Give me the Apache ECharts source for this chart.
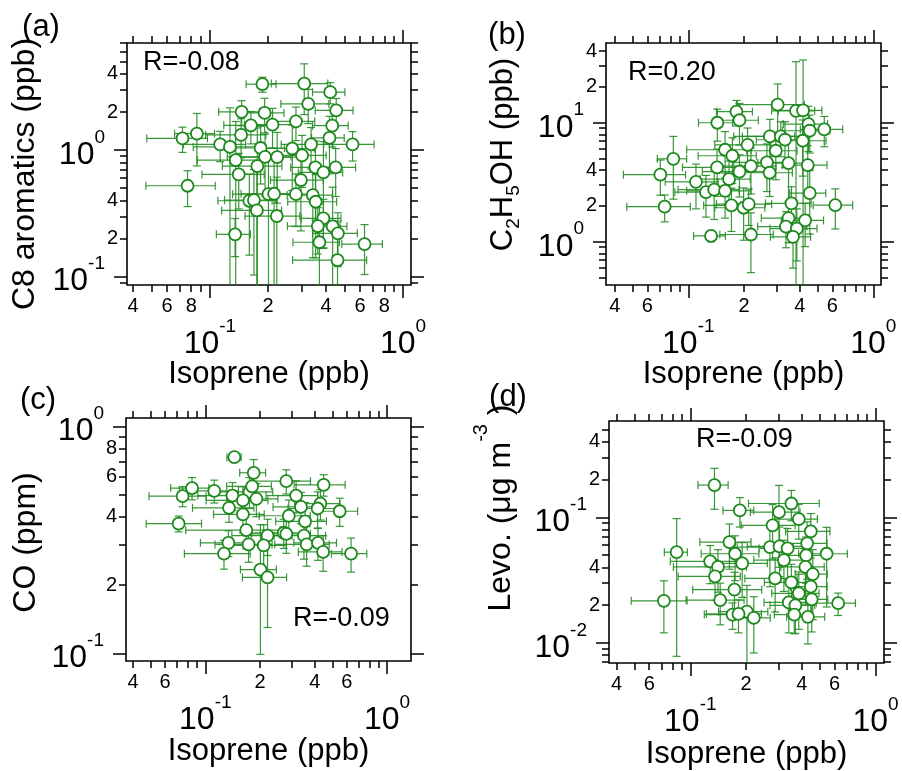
<!DOCTYPE html>
<html>
<head>
<meta charset="utf-8">
<script src="https://cdn.jsdelivr.net/npm/echarts@6/dist/echarts.min.js"></script>
<style>
html,body{margin:0;padding:0;background:#fff;}
#chart{width:902px;height:771px;}
</style>
</head>
<body>
<div id="chart"></div>
<script>
// ---------------- data ----------------
// (a) isoprene vs C8 aromatics
const isoA = [0.187,0.308,0.420,0.323,0.146,0.192,0.451,0.279,0.163,0.211,0.430,0.0721,0.0856,0.145,0.416,0.113,0.127,0.183,0.267,0.334,0.548,0.136,0.193,0.223,0.300,0.176,0.448,0.352,0.141,0.387,0.296,0.0766,0.201,0.215,0.279,0.341,0.353,0.160,0.169,0.175,0.222,0.387,0.362,0.432,0.460,0.135,0.369,0.632,0.458];
const c8 = [3.32,3.36,2.87,2.32,2.01,1.97,2.06,1.69,1.57,1.59,1.56,1.24,1.35,1.32,1.25,1.11,1.06,1.04,1.03,1.11,1.11,0.834,0.886,0.881,0.908,0.748,0.730,0.730,0.643,0.667,0.580,0.523,0.449,0.452,0.449,0.441,0.391,0.398,0.403,0.334,0.301,0.289,0.251,0.250,0.220,0.216,0.187,0.181,0.135];
const isoAErr = [0.033,0.10,0.08,0.09,0.035,0.05,0.10,0.07,0.045,0.06,0.09,0.025,0.02,0.05,0.08,0.04,0.045,0.06,0.08,0.10,0.16,0.05,0.07,0.08,0.10,0.06,0.12,0.09,0.05,0.10,0.09,0.03,0.07,0.07,0.08,0.09,0.10,0.05,0.05,0.06,0.07,0.09,0.11,0.08,0.12,0.027,0.10,0.15,0.19];
const c8Err = [0.45,1.45,0.55,0.7,0.45,0.6,0.5,0.5,0.45,0.55,0.5,0.28,0.6,0.45,0.6,0.3,1.1,0.5,0.55,0.4,0.29,0.85,0.45,0.5,0.4,0.75,0.3,0.45,0.3,0.5,0.35,0.165,0.46,0.46,0.2,0.3,0.25,0.25,0.3,0.34,0.31,0.12,0.1,0.26,0.1,0.072,0.19,0.077,0.14];

// (b) isoprene vs C2H5OH
const isoB = [0.304,0.382,0.417,0.182,0.189,0.1435,0.446,0.543,0.453,0.276,0.316,0.333,0.415,0.209,0.158,0.297,0.173,0.083,0.266,0.348,0.442,0.143,0.218,0.189,0.275,0.0706,0.166,0.110,0.1246,0.138,0.158,0.453,0.171,0.199,0.212,0.361,0.623,0.0745,0.348,0.428,0.337,0.386,0.368,0.1327,0.218];
const etoh = [14.2,12.6,12.7,12.4,10.5,10.0,9.75,8.79,8.57,7.68,7.68,7.2,7.06,6.53,5.93,5.82,5.28,4.98,4.64,4.58,4.41,4.21,4.32,3.88,3.80,3.66,3.36,3.19,2.61,2.74,2.68,2.56,2.02,1.93,2.07,2.10,2.03,1.97,1.58,1.51,1.34,1.29,1.10,1.12,1.15];
const isoBErr = [0.12,0.10,0.11,0.04,0.05,0.03,0.12,0.14,0.13,0.10,0.12,0.10,0.14,0.07,0.06,0.09,0.06,0.015,0.09,0.11,0.12,0.05,0.08,0.07,0.09,0.026,0.05,0.035,0.04,0.05,0.06,0.10,0.05,0.06,0.07,0.10,0.15,0.028,0.10,0.11,0.10,0.11,0.09,0.026,0.07];
const etohErr = [7,20,21,3,4,3,4,2.5,3,3,2.5,3,3.5,2.5,2.5,2.5,2.2,2.7,2,2.5,2,1.8,1.8,1.5,1.4,1.2,1.4,1.3,1.0,1.2,1.1,1.4,0.8,0.9,0.7,0.8,0.75,0.5,0.6,0.6,0.45,0.6,0.5,0.12,0.6];

// (c) isoprene vs CO
const isoC = [0.1445,0.1846,0.279,0.448,0.0845,0.0750,0.112,0.141,0.175,0.181,0.161,0.191,0.316,0.430,0.336,0.415,0.549,0.135,0.161,0.288,0.354,0.0713,0.168,0.220,0.270,0.279,0.349,0.134,0.173,0.2095,0.361,0.417,0.445,0.1267,0.634,0.201,0.220];
const co = [0.732,0.625,0.574,0.553,0.535,0.493,0.520,0.496,0.515,0.545,0.472,0.480,0.496,0.457,0.442,0.435,0.423,0.438,0.410,0.404,0.382,0.373,0.349,0.330,0.340,0.336,0.330,0.307,0.302,0.299,0.302,0.307,0.280,0.275,0.275,0.234,0.216];
const isoCErr = [0.013,0.03,0.10,0.14,0.02,0.026,0.04,0.05,0.06,0.05,0.06,0.06,0.10,0.12,0.10,0.13,0.14,0.05,0.05,0.09,0.11,0.024,0.09,0.08,0.09,0.10,0.11,0.04,0.06,0.07,0.12,0.11,0.12,0.05,0.14,0.045,0.06];
const coErr = [0.03,0.09,0.07,0.06,0.06,0.05,0.06,0.07,0.08,0.07,0.07,0.08,0.08,0.07,0.07,0.08,0.06,0.06,0.07,0.07,0.08,0.03,0.06,0.06,0.05,0.06,0.07,0.04,0.05,0.07,0.06,0.05,0.05,0.04,0.047,0.135,0.086];

// (d) isoprene vs levoglucosan
const isoD = [0.135,0.185,0.351,0.301,0.385,0.278,0.447,0.1626,0.427,0.269,0.303,0.335,0.544,0.0844,0.1745,0.422,0.128,0.1905,0.141,0.320,0.418,0.458,0.136,0.287,0.351,0.447,0.173,0.385,0.0720,0.145,0.340,0.452,0.369,0.628,0.202,0.169,0.220,0.364,0.431,0.182];
const levo = [0.181,0.1137,0.129,0.110,0.0970,0.0864,0.0773,0.0636,0.0621,0.0580,0.0587,0.0566,0.0513,0.0528,0.0513,0.0498,0.0446,0.0430,0.0403,0.0457,0.0403,0.0353,0.0338,0.0326,0.0303,0.0280,0.0265,0.0248,0.0216,0.0219,0.0210,0.0222,0.0199,0.0207,0.0177,0.0168,0.0158,0.0168,0.0161,0.0170];
const isoDErr = [0.025,0.035,0.145,0.09,0.10,0.09,0.12,0.05,0.12,0.09,0.10,0.10,0.16,0.012,0.06,0.11,0.05,0.07,0.06,0.10,0.11,0.09,0.05,0.09,0.10,0.10,0.07,0.11,0.024,0.05,0.09,0.10,0.10,0.15,0.06,0.05,0.05,0.08,0.10,0.06];
const levoErr = [0.065,0.03,0.035,0.07,0.03,0.04,0.03,0.025,0.03,0.03,0.025,0.025,0.032,0.045,0.02,0.02,0.015,0.02,0.015,0.02,0.02,0.02,0.012,0.015,0.012,0.012,0.01,0.012,0.0096,0.008,0.009,0.01,0.008,0.0042,0.011,0.004,0.0075,0.005,0.0063,0.005];

// tick labels (values at which a small digit label is written)
const xLabA = [0.04,0.06,0.08,0.2,0.4,0.6,0.8];
const xLabBCD = [0.04,0.06,0.2,0.4,0.6];
const yLabA = [4,2,0.4,0.2];
const yLabB = [40,20,4,2];
const yLabC = [0.8,0.6,0.4,0.2];
const yLabD = [0.4,0.2,0.04,0.02];

// axis ranges
const xRangeA = [0.0372,1.10], yRangeA = [0.0859,7.03];
const xRangeB = [0.0359,1.10], yRangeB = [0.433,46.8];
const xRangeC = [0.0366,1.355], yRangeC = [0.0925,1.09];
const xRangeD = [0.0364,1.11], yRangeD = [0.0069,0.587];

const rText = ['R=-0.08','R=0.20','R=-0.09','R=-0.09'];
const panelTags = ['(a)','(b)','(c)','(d)'];

// ---------------- layout / style ----------------
const FONT = '"Liberation Sans", Arial, Helvetica, sans-serif';
const GREEN = '#1c891c';
const BAR = 'rgba(35,140,35,0.9)';
const CAP = 4;
const lg = Math.log10;

const panels = [
  {x:isoA, y:c8, xe:isoAErr, ye:c8Err, xRange:xRangeA, yRange:yRangeA, xLab:xLabA, yLab:yLabA,
   grid:{left:127, top:43, width:284, height:242},
   yName:'{m|C8 aromatics (ppb)}', yFS:32, yLH:40, yGap:82, yPad:[0,20,0,0], xGap:73.5,
   tag:[41,27], r:[143,63]},
  {x:isoB, y:etoh, xe:isoBErr, ye:etohErr, xRange:xRangeB, yRange:yRangeB, xLab:xLabBCD, yLab:yLabB,
   grid:{left:606, top:43, width:275, height:242},
   yName:'{m|C}{sub|2}{m|H}{sub|5}{m|OH (ppb)}', yFS:31, yLH:40, yGap:83, yPad:[0,0,0,19], xGap:73.5,
   tag:[507,35], r:[628,73]},
  {x:isoC, y:co, xe:isoCErr, ye:coErr, xRange:xRangeC, yRange:yRangeC, xLab:xLabBCD, yLab:yLabC,
   grid:{left:126, top:418, width:285, height:243},
   yName:'{m|CO (ppm)}', yFS:32, yLH:40, yGap:80, yPad:[0,6,0,0], xGap:74.5,
   tag:[38,400], r:[293,619]},
  {x:isoD, y:levo, xe:isoDErr, ye:levoErr, xRange:xRangeD, yRange:yRangeD, xLab:xLabBCD, yLab:yLabD,
   grid:{left:609, top:421, width:275, height:242},
   yName:'{m|Levo. (μg m}{sup|-3}{m| )}', yFS:32, yLH:60, yGap:78, yPad:[0,0,0,68], xGap:76,
   tag:[508,397], r:[696,440]}
];

function minorVals(r){
  const out=[];
  for(let d=Math.floor(lg(r[0]))-1; d<=Math.ceil(lg(r[1])); d++){
    for(let m=2;m<=9;m++){ const v=m*Math.pow(10,d); if(v>=r[0]&&v<=r[1]) out.push(lg(v)); }
  }
  return out;
}
function majorVals(r){
  const out=[];
  for(let d=Math.floor(lg(r[0]))-1; d<=Math.ceil(lg(r[1])); d++){
    const v=Math.pow(10,d); if(v>=r[0]&&v<=r[1]) out.push(d);
  }
  return out;
}
function digitFmt(v){
  const d=Math.floor(v+1e-9);
  return '{d|' + Math.round(Math.pow(10,v)/Math.pow(10,d)) + '}';
}
const minorRich = { d:{fontSize:20, lineHeight:22, fontFamily:FONT, color:'#000'} };
const majorRich = {
  b:{fontSize:32, lineHeight:54, fontFamily:FONT, color:'#000'},
  s:{fontSize:19, lineHeight:19, verticalAlign:'top', fontFamily:FONT, color:'#000'}
};
function majorFmt(v){ return '{b|10}{s|' + Math.round(v) + '}'; }

function baseAxis(gi, range, pos, major){
  return {
    type:'value', gridIndex:gi, position:pos, min:lg(range[0]), max:lg(range[1]),
    splitLine:{show:false}, splitArea:{show:false},
    axisLine:{show:false, onZero:false},
    axisTick:{show:true, inside:false, length: major?13:7,
      customValues: major ? majorVals(range) : minorVals(range),
      lineStyle:{color:'#000', width:1.5}},
    axisLabel:{show:false},
    axisPointer:{show:false},
    silent:true
  };
}

const xAxis=[], yAxis=[], grid=[], series=[], graphic=[];
panels.forEach((p,gi)=>{
  grid.push(Object.assign({show:true, borderColor:'#000', borderWidth:1.6, backgroundColor:'transparent',
    containLabel:false, outerBoundsMode:'none'}, p.grid));

  // x axes: bottom minor (main), bottom major, top minor, top major
  const xb = baseAxis(gi, p.xRange, 'bottom', false);
  xb.axisLabel = {show:true, customValues:p.xLab.map(lg), formatter:digitFmt, margin:10,
    fontSize:20, fontFamily:FONT, color:'#000', rich:minorRich};
  const xbM = baseAxis(gi, p.xRange, 'bottom', true);
  xbM.axisLabel = {show:true, customValues:majorVals(p.xRange), formatter:majorFmt, margin:32, rich:majorRich};
  xbM.name = 'Isoprene (ppb)';
  xbM.nameLocation = 'middle';
  xbM.nameGap = p.xGap;
  xbM.nameMoveOverlap = false;
  xbM.nameTextStyle = {fontSize:31, lineHeight:31, fontFamily:FONT, color:'#000'};
  xAxis.push(xb, xbM, baseAxis(gi, p.xRange, 'top', false), baseAxis(gi, p.xRange, 'top', true));

  // y axes: left minor (main), left major, right minor, right major
  const yl = baseAxis(gi, p.yRange, 'left', false);
  yl.axisLabel = {show:true, customValues:p.yLab.map(lg), formatter:digitFmt, margin:9,
    fontSize:20, fontFamily:FONT, color:'#000', rich:minorRich};
  const ylM = baseAxis(gi, p.yRange, 'left', true);
  ylM.axisLabel = {show:true, customValues:majorVals(p.yRange), formatter:majorFmt, margin:22,
    rich:majorRich, padding:[10,0,0,0]};
  ylM.name = p.yName;
  ylM.nameLocation = 'middle';
  ylM.nameGap = p.yGap;
  ylM.nameRotate = 90;
  ylM.nameMoveOverlap = false;
  ylM.nameTextStyle = {fontFamily:FONT, color:'#000', fontSize:p.yFS, padding:p.yPad,
    rich:{
      m:{fontSize:p.yFS, lineHeight:p.yLH, fontFamily:FONT, color:'#000'},
      sub:{fontSize:19, lineHeight:22, verticalAlign:'bottom', fontFamily:FONT, color:'#000'},
      sup:{fontSize:20, lineHeight:17, verticalAlign:'top', fontFamily:FONT, color:'#000'}
    }};
  yAxis.push(yl, ylM, baseAxis(gi, p.yRange, 'right', false), baseAxis(gi, p.yRange, 'right', true));

  const xr=[lg(p.xRange[0]), lg(p.xRange[1])], yr=[lg(p.yRange[0]), lg(p.yRange[1])];
  const pts = p.x.map((v,i)=>[lg(v), lg(p.y[i]), i]);

  series.push({
    type:'custom', xAxisIndex:gi*4, yAxisIndex:gi*4, z:3, silent:true,
    data:pts, encode:{x:0, y:1},
    renderItem:function(params, api){
      const i = api.value(2);
      const cx = lg(p.x[i]), cy = lg(p.y[i]);
      const kids=[];
      const st={stroke:BAR, lineWidth:1.2};
      const L=(a,b)=>kids.push({type:'line', shape:{x1:a[0],y1:a[1],x2:b[0],y2:b[1]}, style:st});
      const span=(v,e,r)=>{
        const lo=v-e, hi=v+e; let l, h, lc=true, hc=true;
        if(lo<=0 || lg(lo)<r[0]){ l=r[0]; lc=false; } else l=lg(lo);
        h=lg(hi); if(h>r[1]){ h=r[1]; hc=false; }
        return {l,h,lc,hc};
      };
      const sx=span(p.x[i], p.xe[i], xr);
      const a=api.coord([sx.l, cy]), b=api.coord([sx.h, cy]);
      L(a,b);
      if(sx.lc) L([a[0],a[1]-CAP],[a[0],a[1]+CAP]);
      if(sx.hc) L([b[0],b[1]-CAP],[b[0],b[1]+CAP]);
      const sy=span(p.y[i], p.ye[i], yr);
      const c=api.coord([cx, sy.l]), d=api.coord([cx, sy.h]);
      L(c,d);
      if(sy.lc) L([c[0]-CAP,c[1]],[c[0]+CAP,c[1]]);
      if(sy.hc) L([d[0]-CAP,d[1]],[d[0]+CAP,d[1]]);
      return {type:'group', children:kids};
    }
  });
  series.push({
    type:'scatter', xAxisIndex:gi*4, yAxisIndex:gi*4, z:4, silent:true,
    data:pts.map(q=>[q[0],q[1]]),
    symbol:'circle', symbolSize:12,
    itemStyle:{color:'#fff', borderColor:GREEN, borderWidth:1.8, opacity:1},
    emphasis:{disabled:true}
  });

  graphic.push({type:'text', x:p.tag[0], y:p.tag[1], silent:true,
    style:{text:panelTags[gi], fontSize:31, fontFamily:FONT, fill:'#000', textAlign:'center', textVerticalAlign:'middle', verticalAlign:'middle'}});
  graphic.push({type:'text', x:p.r[0], y:p.r[1], silent:true,
    style:{text:rText[gi], fontSize:27, fontFamily:FONT, fill:'#000', textAlign:'left', textVerticalAlign:'middle', verticalAlign:'middle'}});
});

const chart = echarts.init(document.getElementById('chart'), null, {renderer:'canvas'});
chart.setOption({
  backgroundColor:'#fff',
  animation:false,
  tooltip:{show:false},
  grid:grid, xAxis:xAxis, yAxis:yAxis, series:series, graphic:graphic
});
</script>
</body>
</html>
